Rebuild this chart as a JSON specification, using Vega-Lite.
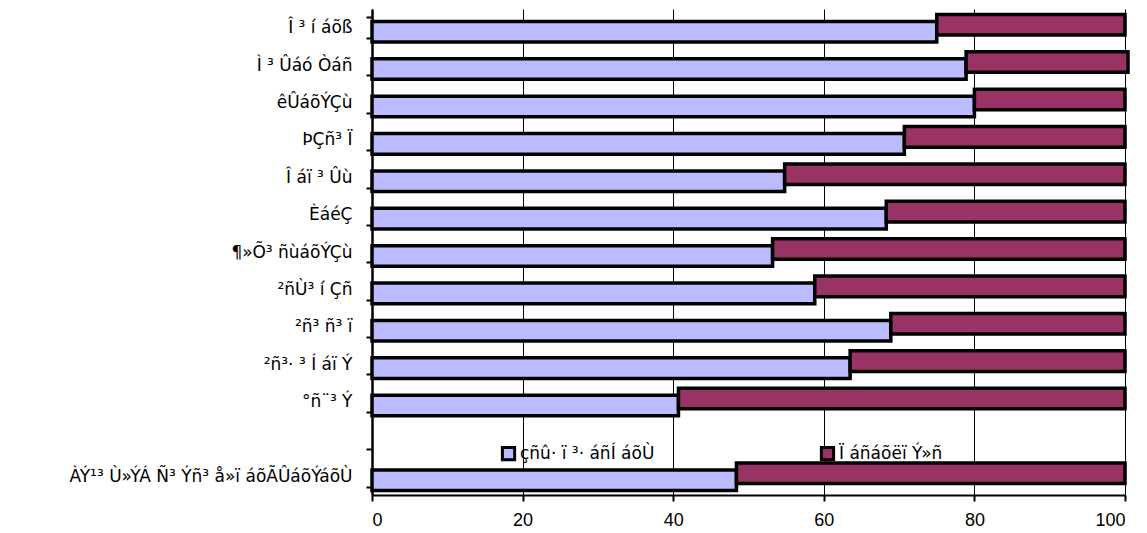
{
  "$schema": "https://vega.github.io/schema/vega-lite/v6.json",
  "width": 753,
  "height": 486,
  "autosize": {"type": "none"},
  "padding": {"left": 372, "top": 9, "right": 22, "bottom": 38},
  "background": "white",
  "config": {
    "view": {"stroke": null},
    "font": "DejaVu Sans"
  },
  "data": {
    "values": [
      {"region": "Î ³ í áõß", "series": "çñû· ï ³· áñÍ áõÙ", "value": 75.0},
      {"region": "Î ³ í áõß", "series": "Ï áñáõëï Ý»ñ", "value": 25.0},
      {"region": "Ì ³ Ûáó Òáñ", "series": "çñû· ï ³· áñÍ áõÙ", "value": 78.9},
      {"region": "Ì ³ Ûáó Òáñ", "series": "Ï áñáõëï Ý»ñ", "value": 21.5},
      {"region": "êÛáõÝÇù", "series": "çñû· ï ³· áñÍ áõÙ", "value": 80.0},
      {"region": "êÛáõÝÇù", "series": "Ï áñáõëï Ý»ñ", "value": 20.0},
      {"region": "ÞÇñ³ Ï", "series": "çñû· ï ³· áñÍ áõÙ", "value": 70.7},
      {"region": "ÞÇñ³ Ï", "series": "Ï áñáõëï Ý»ñ", "value": 29.3},
      {"region": "Î áï  ³ Ûù", "series": "çñû· ï ³· áñÍ áõÙ", "value": 54.8},
      {"region": "Î áï  ³ Ûù", "series": "Ï áñáõëï Ý»ñ", "value": 45.2},
      {"region": "ÈáéÇ", "series": "çñû· ï ³· áñÍ áõÙ", "value": 68.3},
      {"region": "ÈáéÇ", "series": "Ï áñáõëï Ý»ñ", "value": 31.7},
      {"region": "¶»Õ³ ñùáõÝÇù", "series": "çñû· ï ³· áñÍ áõÙ", "value": 53.2},
      {"region": "¶»Õ³ ñùáõÝÇù", "series": "Ï áñáõëï Ý»ñ", "value": 46.8},
      {"region": "²ñÙ³ í Çñ", "series": "çñû· ï ³· áñÍ áõÙ", "value": 58.8},
      {"region": "²ñÙ³ í Çñ", "series": "Ï áñáõëï Ý»ñ", "value": 41.2},
      {"region": "²ñ³ ñ³ ï", "series": "çñû· ï ³· áñÍ áõÙ", "value": 68.9},
      {"region": "²ñ³ ñ³ ï", "series": "Ï áñáõëï Ý»ñ", "value": 31.1},
      {"region": "²ñ³· ³ Í áï Ý", "series": "çñû· ï ³· áñÍ áõÙ", "value": 63.5},
      {"region": "²ñ³· ³ Í áï Ý", "series": "Ï áñáõëï Ý»ñ", "value": 36.5},
      {"region": "°ñ¨³ Ý", "series": "çñû· ï ³· áñÍ áõÙ", "value": 40.7},
      {"region": "°ñ¨³ Ý", "series": "Ï áñáõëï Ý»ñ", "value": 59.3},
      {"region": "ÀÝ¹³ Ù»ÝÁ Ñ³ Ýñ³ å»ï áõÃÛáõÝáõÙ", "series": "çñû· ï ³· áñÍ áõÙ", "value": 48.4},
      {"region": "ÀÝ¹³ Ù»ÝÁ Ñ³ Ýñ³ å»ï áõÃÛáõÝáõÙ", "series": "Ï áñáõëï Ý»ñ", "value": 51.6}
    ]
  },
  "transform": [
    {"stack": "value", "groupby": ["region"], "sort": [{"field": "series", "order": "descending"}], "as": ["x0", "x1"]}
  ],
  "encoding": {
    "y": {
      "field": "region",
      "type": "nominal",
      "scale": {
        "domain": ["Î ³ í áõß", "Ì ³ Ûáó Òáñ", "êÛáõÝÇù", "ÞÇñ³ Ï", "Î áï  ³ Ûù", "ÈáéÇ", "¶»Õ³ ñùáõÝÇù", "²ñÙ³ í Çñ", "²ñ³ ñ³ ï", "²ñ³· ³ Í áï Ý", "°ñ¨³ Ý", " ", "ÀÝ¹³ Ù»ÝÁ Ñ³ Ýñ³ å»ï áõÃÛáõÝáõÙ"],
        "paddingInner": 0.45,
        "paddingOuter": 0.225
      },
      "axis": {
        "title": null,
        "tickBand": "extent",
        "domainColor": "black",
        "domainWidth": 2.5,
        "tickColor": "black",
        "tickWidth": 2,
        "tickSize": 6,
        "labelFont": "DejaVu Sans",
        "labelFontSize": 17,
        "labelColor": "black",
        "labelPadding": 14,
        "labelLimit": 400
      }
    },
    "x": {
      "field": "x0",
      "type": "quantitative",
      "scale": {"domain": [0, 100], "nice": false},
      "axis": {
        "title": null,
        "values": [0, 20, 40, 60, 80, 100],
        "grid": true,
        "gridColor": "black",
        "gridWidth": 1,
        "domainColor": "black",
        "domainWidth": 2,
        "tickColor": "black",
        "tickWidth": 2,
        "tickSize": 6,
        "labelFontSize": 18,
        "labelFont": "Liberation Sans",
        "labelColor": "black",
        "labelPadding": 10
      }
    },
    "x2": {"field": "x1"},
    "color": {
      "field": "series",
      "type": "nominal",
      "scale": {"domain": ["çñû· ï ³· áñÍ áõÙ", "Ï áñáõëï Ý»ñ"], "range": ["#BBBBFF", "#993366"]},
      "legend": {
        "title": null,
        "orient": "none",
        "legendX": 128,
        "legendY": 436,
        "direction": "horizontal",
        "columns": 2,
        "columnPadding": 160,
        "labelFont": "DejaVu Sans",
        "labelFontSize": 17,
        "labelColor": "black",
        "labelOffset": 3,
        "symbolType": "square",
        "symbolSize": 150,
        "symbolStrokeColor": "black",
        "symbolStrokeWidth": 3,
        "symbolOpacity": 1
      }
    }
  },
  "layer": [
    {
      "transform": [{"filter": "datum.series == 'çñû· ï ³· áñÍ áõÙ'"}],
      "mark": {"type": "bar", "stroke": "black", "strokeWidth": 3.5, "yOffset": 4, "opacity": 1}
    },
    {
      "transform": [{"filter": "datum.series == 'Ï áñáõëï Ý»ñ'"}],
      "mark": {"type": "bar", "stroke": "black", "strokeWidth": 3.5, "yOffset": -3, "opacity": 1}
    }
  ]
}
